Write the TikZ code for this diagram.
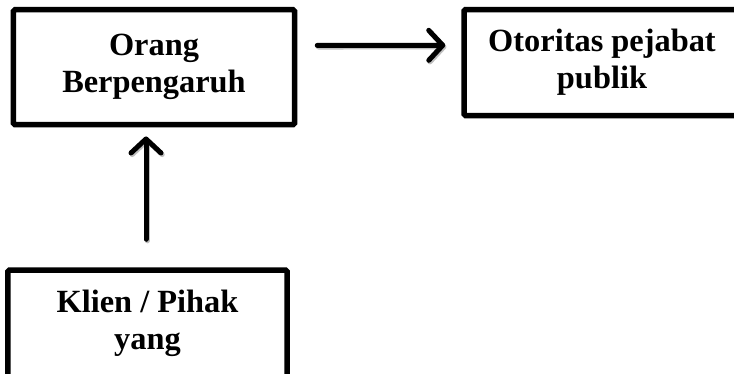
\documentclass[tikz,border=0pt]{standalone}
\usepackage{fontspec}
\setmainfont{Liberation Serif}
\usetikzlibrary{arrows.meta}

\tikzset{
  box/.style={draw=black, line width=5.5bp, rounded corners=1.5bp,
    fill=white, inner sep=0pt, align=center,
    font=\bfseries\fontsize{32.5}{37}\selectfont},
  arr/.style={line width=5bp, line cap=round,
    -{Straight Barb[length=14bp, width=30bp, line join=round, line cap=round]}},
  arrshadow/.style={arr, draw=black!25, transform canvas={xshift=1.2bp, yshift=-1.6bp}}
}

\begin{document}
\begin{tikzpicture}[x=1bp, y=-1bp]
  \useasboundingbox (0,0) rectangle (734,373);
  \clip (0,0) rectangle (734,373);

  % the three actors
  \node[box, minimum width=281bp, minimum height=115bp] (infl) at (154,67.2)
    {Orang\\Berpengaruh};
  \node[box, minimum width=276bp, minimum height=106bp] (auth) at (602,62.5)
    {Otoritas pejabat\\publik};
  \node[box, minimum width=279bp, minimum height=107bp] (client) at (147.5,323.5)
    {Klien / Pihak\\yang};

  % arrow ends
  \coordinate (hA) at ([yshift=-38.5bp]infl.north east);
  \coordinate (hB) at ([yshift=-38.5bp]auth.north west);
  \coordinate (vA) at ([xshift=-1.5bp]client.north);
  \coordinate (vB) at (vA |- infl.south);

  % flows, each with a faint drop shadow
  \draw[arrshadow, shorten <=20bp, shorten >=16bp] (hA) -- (hB);
  \draw[arr, shorten <=20bp, shorten >=16bp] (hA) -- (hB);
  \draw[arrshadow, shorten <=28bp, shorten >=9bp] (vA) -- (vB);
  \draw[arr, shorten <=28bp, shorten >=9bp] (vA) -- (vB);
\end{tikzpicture}
\end{document}
